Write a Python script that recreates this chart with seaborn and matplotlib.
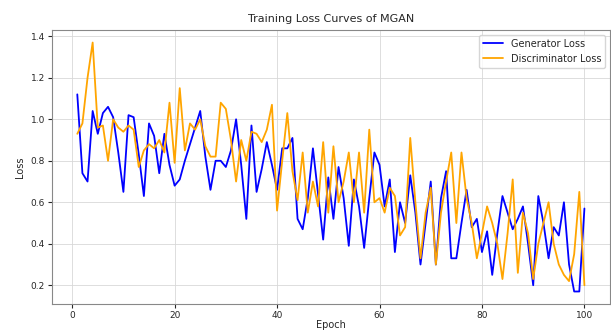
import matplotlib
matplotlib.use("Agg")
import matplotlib.pyplot as plt
import seaborn as sns
import pandas as pd

# Значения потерь по эпохам
epochs = list(range(1, 101))
gen_loss = [
    1.12, 0.74, 0.70, 1.04, 0.93, 1.03, 1.06, 1.01, 0.84, 0.65,
    1.02, 1.01, 0.83, 0.63, 0.98, 0.92, 0.74, 0.93, 0.78, 0.68,
    0.71, 0.80, 0.88, 0.96, 1.04, 0.82, 0.66, 0.80, 0.80, 0.77,
    0.85, 1.00, 0.78, 0.52, 0.97, 0.65, 0.76, 0.89, 0.78, 0.66,
    0.86, 0.86, 0.91, 0.52, 0.47, 0.62, 0.86, 0.64, 0.42, 0.72,
    0.52, 0.77, 0.62, 0.39, 0.71, 0.58, 0.38, 0.62, 0.84, 0.78,
    0.58, 0.71, 0.36, 0.60, 0.50, 0.73, 0.55, 0.30, 0.50, 0.70,
    0.30, 0.62, 0.75, 0.33, 0.33, 0.50, 0.66, 0.48, 0.52, 0.36,
    0.46, 0.25, 0.45, 0.63, 0.55, 0.47, 0.52, 0.58, 0.40, 0.20,
    0.63, 0.50, 0.33, 0.48, 0.44, 0.60, 0.30, 0.17, 0.17, 0.57,
]
disc_loss = [
    0.93, 0.98, 1.20, 1.37, 0.96, 0.97, 0.80, 1.00, 0.96, 0.94,
    0.97, 0.95, 0.77, 0.85, 0.88, 0.86, 0.90, 0.84, 1.08, 0.79,
    1.15, 0.85, 0.98, 0.95, 1.00, 0.87, 0.82, 0.82, 1.08, 1.05,
    0.90, 0.70, 0.90, 0.80, 0.94, 0.93, 0.89, 0.95, 1.07, 0.56,
    0.80, 1.03, 0.75, 0.61, 0.84, 0.55, 0.70, 0.58, 0.89, 0.55,
    0.87, 0.60, 0.70, 0.84, 0.60, 0.84, 0.55, 0.95, 0.60, 0.62,
    0.55, 0.67, 0.63, 0.44, 0.48, 0.91, 0.60, 0.33, 0.55, 0.67,
    0.30, 0.55, 0.70, 0.84, 0.50, 0.84, 0.62, 0.50, 0.33, 0.45,
    0.58, 0.50, 0.40, 0.23, 0.45, 0.71, 0.26, 0.55, 0.45, 0.23,
    0.40, 0.50, 0.60, 0.40, 0.30, 0.25, 0.22, 0.35, 0.65, 0.20,
]

df = pd.DataFrame({"Epoch": epochs, "Generator Loss": gen_loss,
                   "Discriminator Loss": disc_loss})

sns.set_style("ticks")

fig, ax = plt.subplots(figsize=(6.11, 3.34), dpi=100)
sns.lineplot(data=df, x="Epoch", y="Generator Loss", color="blue",
             linewidth=1.3, label="Generator Loss", ax=ax)
sns.lineplot(data=df, x="Epoch", y="Discriminator Loss", color="orange",
             linewidth=1.3, label="Discriminator Loss", ax=ax)

ax.set_title("Training Loss Curves of MGAN", fontsize=8)
ax.set_xlabel("Epoch", fontsize=7, labelpad=0)
ax.set_ylabel("Loss", fontsize=7)
ax.tick_params(labelsize=6.5, length=3, pad=2)
ax.grid(True, color="#d8d8d8", linewidth=0.6)
for s in ax.spines.values():
    s.set_color("#888888")
ax.legend(loc="upper right", fontsize=7, frameon=True)

fig.subplots_adjust(left=0.085, right=0.998, top=0.91, bottom=0.09)
fig.savefig("out.png", dpi=100)
